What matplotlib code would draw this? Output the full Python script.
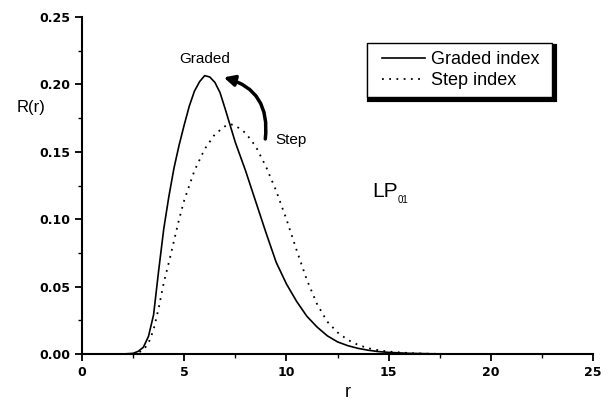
import matplotlib.pyplot as plt
from matplotlib.lines import Line2D
from matplotlib.legend_handler import HandlerLine2D
from matplotlib.ticker import MultipleLocator

# --- Data ---
r_graded = [0, 2.0, 2.5, 2.75, 3.0, 3.25, 3.5, 3.75, 4.0, 4.25, 4.5, 4.75,
            5.0, 5.25, 5.5, 5.75, 6.0, 6.25, 6.5, 6.75, 7.0, 7.5, 8.0, 8.5,
            9.0, 9.5, 10.0, 10.5, 11.0, 11.5, 12.0, 12.5, 13.0, 13.5, 14.0,
            14.5, 15.0, 16.0, 17.0, 18.0, 25.0]
R_graded = [0, 0, 0.0005, 0.002, 0.005, 0.013, 0.029, 0.062, 0.093, 0.117,
            0.138, 0.155, 0.170, 0.184, 0.195, 0.202, 0.2065, 0.2055, 0.2015,
            0.194, 0.182, 0.157, 0.136, 0.113, 0.090, 0.068, 0.052, 0.039,
            0.028, 0.020, 0.0135, 0.009, 0.0062, 0.0042, 0.0028, 0.0018,
            0.0012, 0.0005, 0.0002, 0, 0]

r_step = [0, 2.5, 2.75, 3.0, 3.25, 3.5, 3.75, 4.0, 4.25, 4.5, 4.75, 5.0, 5.5,
          6.0, 6.5, 7.0, 7.25, 7.5, 8.0, 8.5, 9.0, 9.5, 10.0, 10.5, 11.0,
          11.5, 12.0, 12.5, 13.0, 13.5, 14.0, 14.5, 15.0, 16.0, 17.0, 18.0,
          25.0]
R_step = [0, 0, 0.001, 0.003, 0.008, 0.018, 0.034, 0.053, 0.068, 0.084, 0.100,
          0.114, 0.136, 0.152, 0.163, 0.169, 0.1705, 0.1695, 0.164, 0.154,
          0.139, 0.121, 0.100, 0.077, 0.055, 0.037, 0.024, 0.016, 0.0105,
          0.0068, 0.0043, 0.0028, 0.0018, 0.0007, 0.0002, 0, 0]

x_ticks = [0, 5, 10, 15, 20, 25]
y_ticks = [0.00, 0.05, 0.10, 0.15, 0.20, 0.25]

# --- Plotting ---
fig = plt.figure(figsize=(6.14, 4.01), dpi=100)
ax = fig.add_axes([0.1336, 0.1172, 0.8322, 0.8404])

ax.plot(r_graded, R_graded, color="black", linewidth=1.2, label="Graded index ")
ax.plot(r_step, R_step, color="black", linewidth=1.3,
        linestyle=(0, (1, 3)), label="Step index")

ax.set_xlim(0, 25)
ax.set_ylim(0, 0.25)
ax.set_xticks(x_ticks)
ax.set_yticks(y_ticks)
ax.xaxis.set_minor_locator(MultipleLocator(2.5))
ax.yaxis.set_minor_locator(MultipleLocator(0.025))
ax.set_yticklabels([f"{v:.2f}" for v in y_ticks])

for s in ["top", "right"]:
    ax.spines[s].set_visible(False)
for s in ["left", "bottom"]:
    ax.spines[s].set_linewidth(1.5)

ax.tick_params(which="major", direction="out", length=5, width=1.3)
ax.tick_params(which="minor", direction="out", length=3, width=1.0)
for lab in ax.get_xticklabels() + ax.get_yticklabels():
    lab.set_fontfamily("DejaVu Sans")
    lab.set_fontweight("bold")
    lab.set_fontsize(9)

ax.set_xlabel("r", fontsize=13, family="Liberation Sans", va="baseline")
ax.xaxis.set_label_coords(0.52, -0.127)
ax.set_ylabel("R(r)", fontsize=12, family="Liberation Sans", rotation=0)
ax.yaxis.set_label_coords(-0.1, 0.71)

# annotations
ax.text(6.02, 0.2185, "Graded", fontsize=11, family="Liberation Sans",
        ha="center", va="center")
ax.text(9.44, 0.159, "Step", fontsize=11, family="Liberation Sans",
        ha="left", va="center")
ax.text(14.2, 0.1167, "LP", fontsize=15, family="Liberation Sans",
        ha="left", va="baseline")
ax.text(15.43, 0.1118, "01", fontsize=7, family="Liberation Sans",
        ha="left", va="baseline")
ax.annotate("", xy=(6.8, 0.2057), xytext=(8.95, 0.1575),
            arrowprops=dict(arrowstyle="-|>", connectionstyle="arc3,rad=0.45",
                            lw=2.5, color="black", mutation_scale=16))

leg = ax.legend(loc="upper left", bbox_to_anchor=(0.557, 0.922),
                borderaxespad=0, fancybox=False, frameon=True,
                shadow={"color": "black", "alpha": 1, "linewidth": 3},
                prop={"family": "Liberation Sans", "size": 13},
                handlelength=2.8, labelspacing=0.2, borderpad=0.45,
                handletextpad=0.3,
                handler_map={Line2D: HandlerLine2D(xpad=0.4)})
leg.get_frame().set_edgecolor("black")
leg.get_frame().set_linewidth(1.0)

fig.savefig("out.png", dpi=100)
